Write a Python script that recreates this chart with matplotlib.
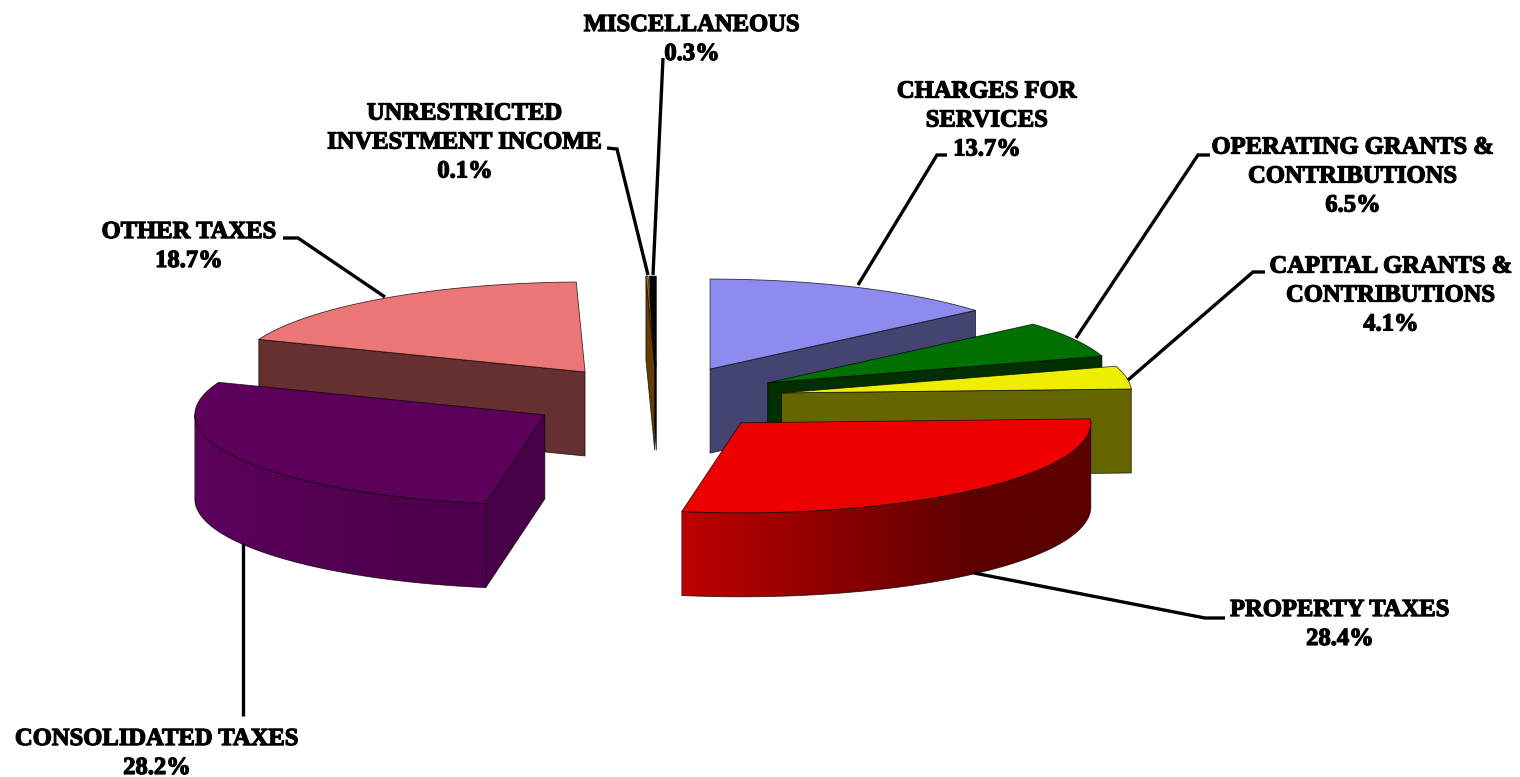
import numpy as np
import matplotlib
matplotlib.use("Agg")
import matplotlib.pyplot as plt
from matplotlib.patches import Polygon
from matplotlib.colors import LinearSegmentedColormap
import matplotlib.patheffects as pe

categories = ["CHARGES FOR\nSERVICES", "OPERATING GRANTS &\nCONTRIBUTIONS",
              "CAPITAL GRANTS &\nCONTRIBUTIONS", "PROPERTY TAXES", "CONSOLIDATED TAXES",
              "OTHER TAXES", "UNRESTRICTED\nINVESTMENT INCOME", "MISCELLANEOUS"]
values = [13.7, 6.5, 4.1, 28.4, 28.2, 18.7, 0.1, 0.3]
explode = [0.36, 0.36, 0.36, 0.36, 0.37, 0.36, 0.36, 0.36]

top_colors = ["#8C8CEE", "#007000", "#EEEE00", "#EC0000", "#5C005C", "#EC7676", "#C07800", "#000000"]
face_colors = ["#444470", "#003000", "#666600", "#660000", "#480048", "#663030", "#663C00", "#000000"]
wall_left = ["#444470", "#003000", "#666600", "#BE0000", "#5C005C", "#663030", "#663C00", "#000000"]
wall_right = ["#444470", "#003000", "#666600", "#5C0000", "#4E004E", "#663030", "#663C00", "#000000"]
draw_order = [7, 6, 0, 5, 1, 2, 4, 3]

label_pos = [(987, 120), (1353, 176), (1391, 295), (1340, 624), (157, 753), (189, 246), (465, 142), (692, 39)]
leaders = [[(947, 155), (937, 155), (858, 285)],
           [(1210, 155), (1198, 155), (1076, 338)],
           [(1265, 272), (1253, 272), (1128, 380)],
           [(1225, 618), (1205, 618), (974, 573)],
           [(243, 716), (243, 543)],
           [(283, 238), (298, 238), (385, 297)],
           [(607, 148), (617, 149), (648, 275)],
           [(663, 58), (653, 275)]]

CX, CY, RX, RY, DEPTH = 657.5, 398.5, 350, 90, 84

fig = plt.figure(figsize=(15.2, 7.77), dpi=100, facecolor="white")
ax = fig.add_axes([0, 0, 1, 1])
ax.axis("off")

vals = np.array(values, dtype=float)
edges = np.concatenate([[0], np.cumsum(vals)]) / vals.sum() * 2 * np.pi


def rim(ang, ox, oy, dy=0.0):
    return np.column_stack([ox + RX * np.sin(ang), oy - RY * np.cos(ang) + dy])


zo = 1
for i in draw_order:
    a0, a1 = edges[i], edges[i + 1]
    mid = (a0 + a1) / 2
    ox = CX + explode[i] * RX * np.sin(mid)
    oy = CY - explode[i] * RY * np.cos(mid)
    line = dict(edgecolor=(0, 0, 0, 0.75), linewidth=0.6, joinstyle="round")
    # radial cut faces
    for ang, visible in ((a0, np.sin(a0) < 0), (a1, np.sin(a1) > 0)):
        if visible:
            p = rim(np.array([ang]), ox, oy)[0]
            poly = [(ox, oy), tuple(p), (p[0], p[1] + DEPTH), (ox, oy + DEPTH)]
            ax.add_patch(Polygon(poly, closed=True, facecolor=face_colors[i], zorder=zo, **line))
            zo += 1
    # outer wall with a horizontal gradient clipped to the wall outline
    lo, hi = max(a0, np.pi / 2), min(a1, 3 * np.pi / 2)
    if hi > lo:
        grid = np.linspace(lo, hi, 160)
        t = rim(grid, ox, oy)
        b = rim(grid[::-1], ox, oy, DEPTH)
        outline = Polygon(np.vstack([t, b]), closed=True, facecolor="none", zorder=zo + 1, **line)
        ax.add_patch(outline)
        xmin, xmax = t[:, 0].min(), t[:, 0].max()
        ymin, ymax = t[:, 1].min(), b[:, 1].max()
        cmap = LinearSegmentedColormap.from_list(
            "wall", [(0, wall_left[i]), (0.72, wall_right[i]), (1, wall_right[i])])
        im = ax.imshow(np.linspace(0, 1, 256)[None, :], extent=(xmin, xmax, ymax, ymin), cmap=cmap,
                       aspect="auto", zorder=zo, interpolation="bilinear")
        im.set_clip_path(outline)
        zo += 2
    # top
    arc = rim(np.linspace(a0, a1, 100), ox, oy)
    ax.add_patch(Polygon(np.vstack([[ox, oy], arc]), closed=True, facecolor=top_colors[i], zorder=zo, **line))
    zo += 1

for pts in leaders:
    xs, ys = zip(*pts)
    ax.plot(xs, ys, color="black", lw=2.4, solid_joinstyle="miter", solid_capstyle="butt", zorder=zo)
zo += 1

for name, v, (x, y) in zip(categories, values, label_pos):
    t = ax.text(x, y, f"{name}\n{v:.1f}%", ha="center", va="center", ma="center",
                family="Liberation Serif", weight="bold", fontsize=17.7, color="black",
                linespacing=1.33, zorder=zo)
    t.set_path_effects([pe.withStroke(linewidth=0.9, foreground="black")])

ax.set_xlim(0, 1520)
ax.set_ylim(777, 0)
fig.savefig("out.png", dpi=100, facecolor="white")
